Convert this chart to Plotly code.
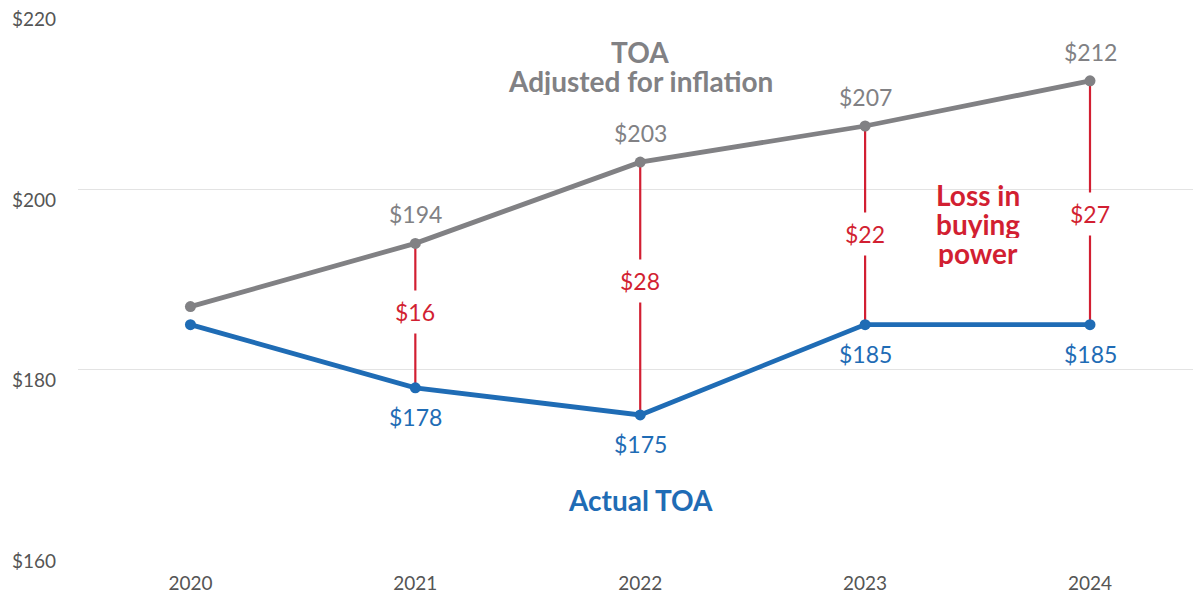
import plotly.graph_objects as go

years = [2020, 2021, 2022, 2023, 2024]
adjusted_toa = [187, 194, 203, 207, 212]
actual_toa = [185, 178, 175, 185, 185]
gap_years = [2021, 2022, 2023, 2024]
gap_values = [16, 28, 22, 27]
y_ticks = [160, 180, 200, 220]

GRAY = "#818184"
BLUE = "#1f6cb5"
RED = "#d21f32"
TICK = "#555555"
FONT = "Lato"

# label vertical placement for the gap labels (in data units)
gap_label_y = [186.4, 189.8, 195.0, 197.2]

fig = go.Figure()

# red connecting segments
rx, ry = [], []
for yr in gap_years:
    i = years.index(yr)
    rx += [yr, yr, None]
    ry += [adjusted_toa[i], actual_toa[i], None]
fig.add_trace(go.Scatter(x=rx, y=ry, mode="lines",
                         line=dict(color=RED, width=2.2),
                         hoverinfo="skip", showlegend=False))

fig.add_trace(go.Scatter(x=years, y=adjusted_toa, mode="lines+markers",
                         line=dict(color=GRAY, width=4.8),
                         marker=dict(color=GRAY, size=11),
                         showlegend=False, name="TOA adjusted for inflation"))
fig.add_trace(go.Scatter(x=years, y=actual_toa, mode="lines+markers",
                         line=dict(color=BLUE, width=4.8),
                         marker=dict(color=BLUE, size=11),
                         showlegend=False, name="Actual TOA"))

ann = []
for yr, v in zip(years[1:], adjusted_toa[1:]):
    ann.append(dict(x=yr, y=v, text=f"${v}", showarrow=False, yshift=29,
                    font=dict(family=FONT, size=23, color=GRAY)))
for yr, v in zip(years[1:], actual_toa[1:]):
    ann.append(dict(x=yr, y=v, text=f"${v}", showarrow=False, yshift=-29,
                    font=dict(family=FONT, size=23, color=BLUE)))
for yr, g, ly in zip(gap_years, gap_values, gap_label_y):
    ann.append(dict(x=yr, y=ly, text=f"${g}", showarrow=False,
                    bgcolor="white", borderpad=7,
                    font=dict(family=FONT, size=23, color=RED)))
for t in y_ticks:
    ann.append(dict(xref="paper", x=-0.0610, xanchor="left", y=t, yshift=-10,
                    text=f"${t}", showarrow=False,
                    font=dict(family=FONT, size=19, color=TICK)))

def block(lines, x, y_center, color, spacing=29):
    n = len(lines)
    for k, line in enumerate(lines):
        off = (n - 1) / 2 * spacing - k * spacing
        ann.append(dict(x=x, y=y_center, yshift=off, text=f"<b>{line}</b>",
                        showarrow=False, height=spacing - 1, borderpad=0,
                        valign="middle",
                        font=dict(family=FONT, size=28, color=color)))

block(["TOA", "Adjusted for inflation"], 2022, 213.6, GRAY)
block(["Loss in", "buying", "power"], 2023.5, 196.1, RED)
block(["Actual TOA"], 2022, 165.6, BLUE)

fig.update_layout(
    width=1193, height=595,
    margin=dict(l=78, r=0, t=8, b=44),
    paper_bgcolor="white", plot_bgcolor="white",
    annotations=ann,
    xaxis=dict(range=[2019.5, 2024.458], tickvals=years,
               ticktext=[str(y) for y in years],
               showgrid=False, zeroline=False, showline=False,
               ticks="", ticklabelstandoff=19,
               tickfont=dict(family=FONT, size=19, color=TICK)),
    yaxis=dict(range=[159.93, 220.07], tickvals=y_ticks, showticklabels=False,
               showgrid=True, gridcolor="#e3e3e3", gridwidth=1,
               zeroline=False, showline=False, ticks=""),
)

fig.write_html("out.html", config={"displayModeBar": False},
               post_script="document.body.style.margin='0';document.body.style.overflow='hidden';")
